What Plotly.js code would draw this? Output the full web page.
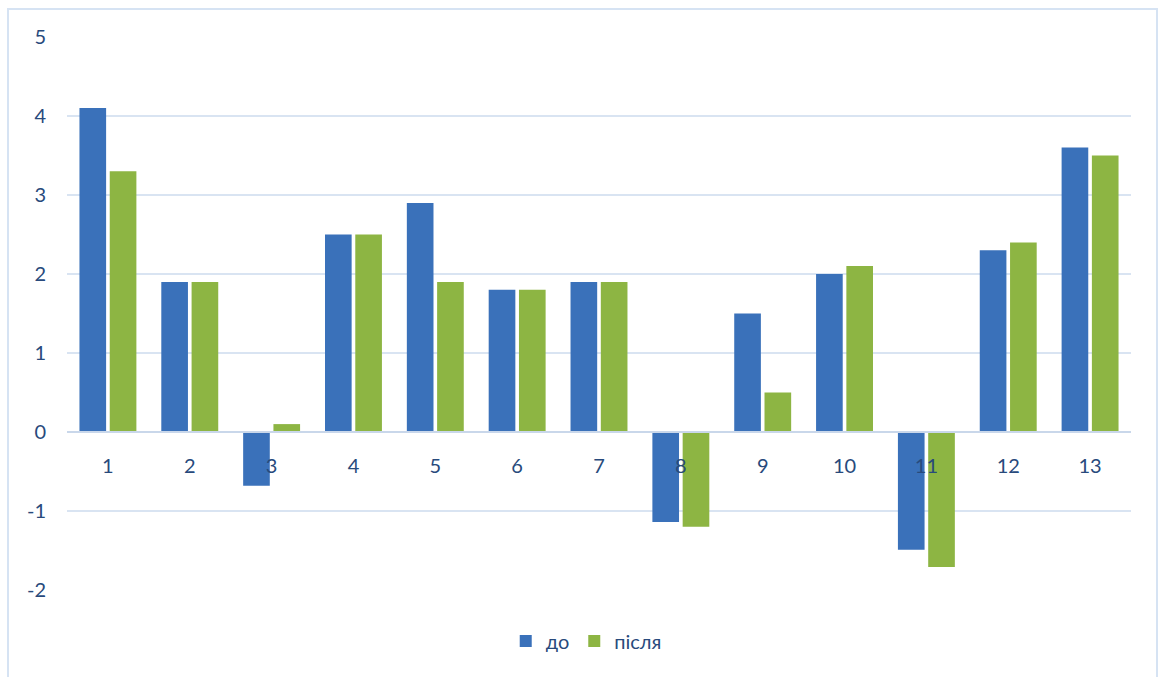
<!DOCTYPE html>
<html>
<head>
<meta charset="utf-8">
<script src="https://cdn.plot.ly/plotly-3.0.1.min.js"></script>
<style>
  html, body { margin: 0; padding: 0; background: #fff; }
  #frame { position: absolute; left: 7px; top: 8px; width: 1151px; height: 675px; border: 2px solid #d6e3f3; box-sizing: border-box; }
  #chart { position: absolute; left: 0; top: 0; width: 1167px; height: 677px; }
</style>
</head>
<body>
<div id="frame"></div>
<div id="chart"></div>
<script>
const categories = ['1','2','3','4','5','6','7','8','9','10','11','12','13'];
const seriesNames = ['до', 'після'];
const before = [4.1, 1.9, -0.68, 2.5, 2.9, 1.8, 1.9, -1.14, 1.5, 2.0, -1.49, 2.3, 3.6];
const after  = [3.3, 1.9, 0.1, 2.5, 1.9, 1.8, 1.9, -1.2, 0.5, 2.1, -1.71, 2.4, 3.5];
const yTicks = [-2, -1, 0, 1, 2, 3, 4, 5];

const textColor = '#284a7c';
const font = {family: 'Lato, Open Sans, Liberation Sans, sans-serif', size: 20, color: textColor};
const yMin = -2, yMax = 5;

const data = [
  {type: 'bar', name: seriesNames[0], x: categories, y: before,
   marker: {color: '#3a71ba'}},
  {type: 'bar', name: seriesNames[1], x: categories, y: after,
   marker: {color: '#8db543'}}
];

const layout = {
  width: 1167, height: 677,
  margin: {l: 67, r: 36, t: 37, b: 87},
  paper_bgcolor: 'rgba(0,0,0,0)',
  plot_bgcolor: 'rgba(0,0,0,0)',
  font: font,
  barmode: 'group',
  bargap: 0.26,
  bargroupgap: 0.12,
  showlegend: true,
  legend: {orientation: 'h', x: 0.488, xanchor: 'center', y: -0.092, yanchor: 'middle',
           font: font, itemwidth: 30, traceorder: 'normal'},
  xaxis: {
    type: 'category',
    anchor: 'free',
    position: (0 - yMin) / (yMax - yMin),
    showgrid: false,
    showline: true, linecolor: '#c9d7ea', linewidth: 2,
    ticks: '',
    ticklabelstandoff: 16,
    tickfont: font,
    fixedrange: true
  },
  yaxis: {
    range: [yMin, yMax],
    tickvals: yTicks,
    ticktext: yTicks.map(String),
    showgrid: true, gridcolor: '#d9e4f2', gridwidth: 2,
    zeroline: false,
    showline: false,
    ticks: '',
    ticklabelstandoff: 20,
    tickfont: font
  }
};

Plotly.newPlot('chart', data, layout, {displayModeBar: false, staticPlot: true});
</script>
</body>
</html>
